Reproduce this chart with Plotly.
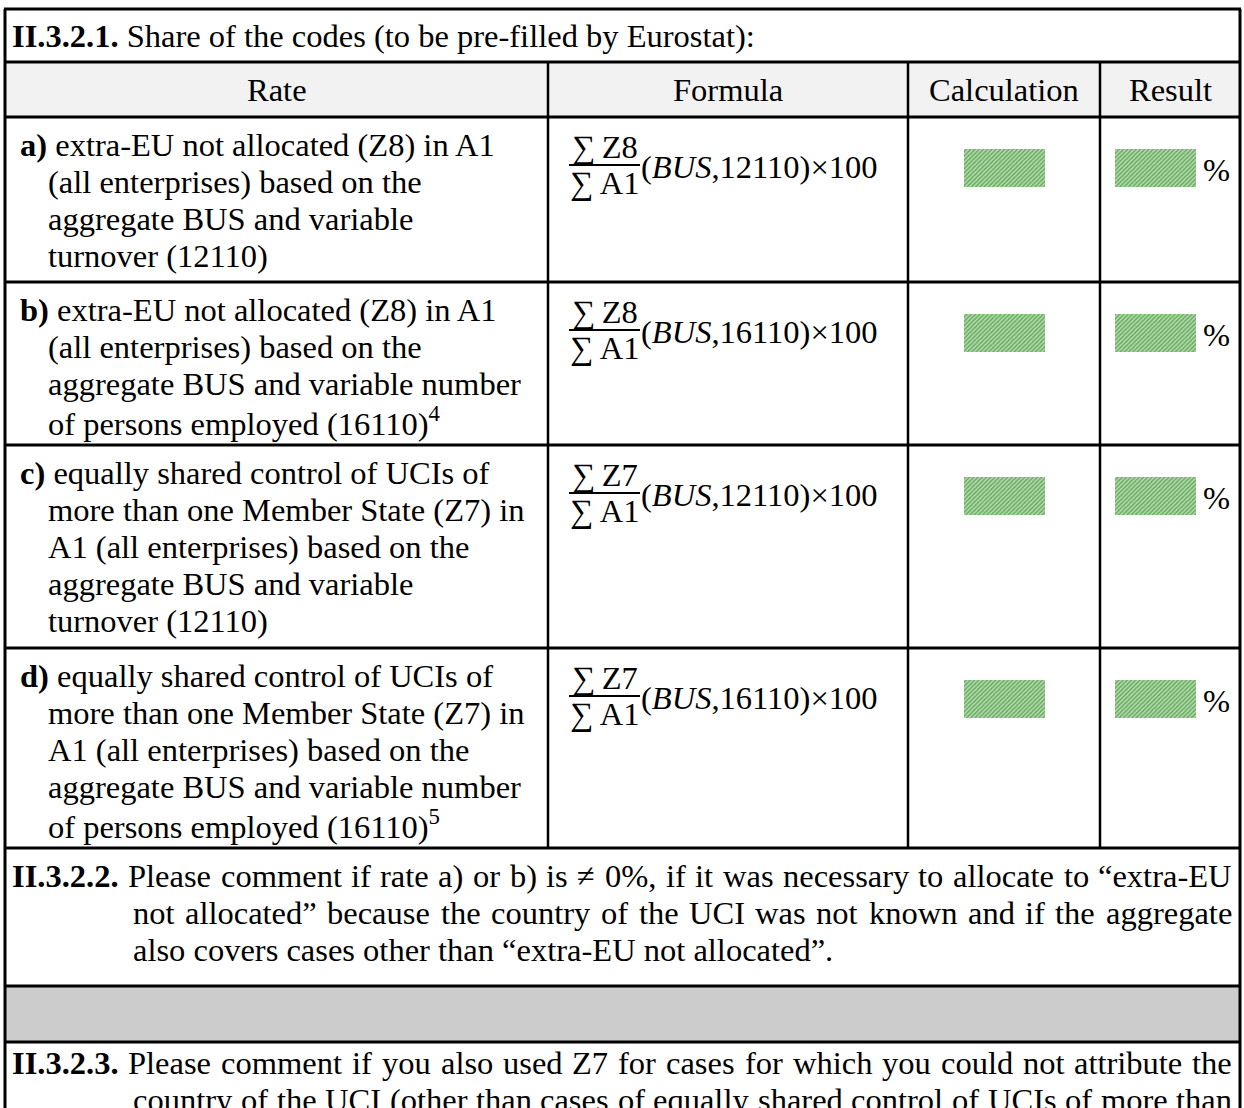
import plotly.graph_objects as go

# ---------------- data (texts of the table) ----------------
title_num = "II.3.2.1."
title_text = "Share of the codes (to be pre-filled by Eurostat):"
headers = ["Rate", "Formula", "Calculation", "Result"]
rate_labels = ["a)", "b)", "c)", "d)"]
rate_texts = [
    ["extra-EU not allocated (Z8) in A1", "(all enterprises) based on the",
     "aggregate BUS and variable", "turnover (12110)"],
    ["extra-EU not allocated (Z8) in A1", "(all enterprises) based on the",
     "aggregate BUS and variable number", "of persons employed (16110)<sup>4</sup>"],
    ["equally shared control of UCIs of", "more than one Member State (Z7) in",
     "A1 (all enterprises) based on the", "aggregate BUS and variable", "turnover (12110)"],
    ["equally shared control of UCIs of", "more than one Member State (Z7) in",
     "A1 (all enterprises) based on the", "aggregate BUS and variable number",
     "of persons employed (16110)<sup>5</sup>"],
]
numerators = ["Z8", "Z8", "Z7", "Z7"]
denominators = ["A1", "A1", "A1", "A1"]
aggregates = ["BUS", "BUS", "BUS", "BUS"]
variables = ["12110", "16110", "12110", "16110"]
unit = "%"
q2_num = "II.3.2.2."
q2_lines = ["Please comment if rate a) or b) is \u2260 0%, if it was necessary to allocate to \u201cextra-EU",
            "not allocated\u201d because the country of the UCI was not known and if the aggregate",
            "also covers cases other than \u201cextra-EU not allocated\u201d."]
q3_num = "II.3.2.3."
q3_lines = ["Please comment if you also used Z7 for cases for which you could not attribute the",
            "country of the UCI (other than cases of equally shared control of UCIs of more than"]

# ---------------- layout constants ----------------
W, H = 1244, 1108
FONT = "Liberation Serif, Times New Roman, serif"
FS = 32.5
LH = 37
X0, X1, X2, X3, X4 = 5, 548, 908, 1100, 1240
Y_TOP, Y_HEAD = 9, 62
ROW_TOPS = [117, 282, 445, 648, 848]
Y_Q2_END, Y_GRAY_END = 986, 1042
TEXT_R = 1232

# Times-Roman advance widths (per 1000 em) for justification
TW = {' ': 250, '!': 333, '"': 408, '%': 833, '(': 333, ')': 333, ',': 250, '-': 333,
      '.': 250, ':': 278, ';': 278, '?': 444, '\u201c': 444, '\u201d': 444, '\u2260': 549,
      'A': 722, 'B': 667, 'C': 667, 'D': 722, 'E': 611, 'F': 556, 'G': 722, 'H': 722,
      'I': 333, 'J': 389, 'K': 722, 'L': 611, 'M': 889, 'N': 722, 'O': 722, 'P': 556,
      'Q': 722, 'R': 667, 'S': 556, 'T': 611, 'U': 722, 'V': 722, 'W': 944, 'X': 722,
      'Y': 722, 'Z': 611, 'a': 444, 'b': 500, 'c': 444, 'd': 500, 'e': 444, 'f': 333,
      'g': 500, 'h': 500, 'i': 278, 'j': 278, 'k': 500, 'l': 278, 'm': 778, 'n': 500,
      'o': 500, 'p': 500, 'q': 500, 'r': 333, 's': 389, 't': 278, 'u': 500, 'v': 500,
      'w': 722, 'x': 500, 'y': 500, 'z': 444}
TWB = {'I': 389, '.': 250}


def width(s, bold=False):
    tot = 0
    for c in s:
        if bold and c in TWB:
            tot += TWB[c]
        else:
            tot += TW.get(c, 500)
    return tot / 1000.0 * FS


annotations = []
shapes = []


def txt(x, y, s, anchor="left", size=FS):
    annotations.append(dict(x=x, y=y, xref="x", yref="y", text=s, showarrow=False,
                            xanchor=anchor, yanchor="middle", borderpad=0, borderwidth=0,
                            font=dict(family=FONT, size=size, color="black")))


def justified(x_left, x_right, y, line, head=None):
    words = line.split(" ")
    items = []
    if head:
        items.append(("<b>" + head + "</b>", width(head, True)))
    items += [(w, width(w)) for w in words]
    total = sum(w for _, w in items)
    gap = (x_right - x_left - total) / (len(items) - 1)
    x = x_left
    for s, w in items:
        txt(x, y, s)
        x += w + gap


# ---------------- fills ----------------
shapes.append(dict(type="rect", x0=X0, x1=X4, y0=Y_HEAD, y1=ROW_TOPS[0], fillcolor="#f2f2f2",
                   line=dict(width=0), layer="below"))
shapes.append(dict(type="rect", x0=X0, x1=X4, y0=Y_Q2_END, y1=Y_GRAY_END, fillcolor="#cccccc",
                   line=dict(width=0), layer="below"))

# ---------------- grid lines ----------------
for y in [Y_TOP, Y_HEAD] + ROW_TOPS + [Y_Q2_END, Y_GRAY_END]:
    shapes.append(dict(type="line", x0=X0 - 1, x1=X4 + 1, y0=y, y1=y, line=dict(color="black", width=3)))
for x in [X0, X4]:
    shapes.append(dict(type="line", x0=x, x1=x, y0=Y_TOP, y1=H, line=dict(color="black", width=3)))
for x in [X1, X2, X3]:
    shapes.append(dict(type="line", x0=x, x1=x, y0=Y_HEAD, y1=ROW_TOPS[-1], line=dict(color="black", width=2.5)))

# ---------------- title & headers ----------------
txt(12, 36, "<b>" + title_num + "</b> " + title_text)
col_centers = [(X0 + X1) / 2, (X1 + X2) / 2, (X2 + X3) / 2, (X3 + X4) / 2]
for cx, h in zip(col_centers, headers):
    txt(cx, 90, h, anchor="center")

# ---------------- rows ----------------
fig = go.Figure()
for i in range(4):
    top = ROW_TOPS[i]
    lines = rate_texts[i]
    for k, ln in enumerate(lines):
        y = top + 28 + LH * k
        if k == 0:
            txt(20, y, "<b>" + rate_labels[i] + "</b> " + ln)
        else:
            txt(48, y, ln)
    # formula
    fx0, fx1 = 569, 640
    fcx = (fx0 + fx1) / 2
    txt(fcx, top + 30, "\u2211\u2009" + numerators[i], anchor="center")
    shapes.append(dict(type="line", x0=fx0, x1=fx1, y0=top + 48, y1=top + 48,
                       line=dict(color="black", width=1.8)))
    txt(fcx, top + 66, "\u2211\u2009" + denominators[i], anchor="center")
    txt(fx1 + 1, top + 50, "(<i>" + aggregates[i] + "</i>," + variables[i] + ")\u00d7100")
    # hatched boxes
    by0, by1 = top + 32, top + 70
    for bx0, bx1 in [(964, 1045), (1115, 1196)]:
        fig.add_trace(go.Scatter(x=[bx0, bx1, bx1, bx0, bx0], y=[by0, by0, by1, by1, by0],
                                 mode="lines", fill="toself", line=dict(width=0, color="rgba(0,0,0,0)"),
                                 fillcolor="#a6d79c",
                                 fillpattern=dict(shape="/", fgcolor="#1f741f", bgcolor="#b4deaa",
                                                  size=3, solidity=0.5),
                                 hoverinfo="skip", showlegend=False))
    txt(1216, top + 53, unit, anchor="center")

# ---------------- questions ----------------
q2_top = ROW_TOPS[-1]
justified(12, TEXT_R, q2_top + 28, q2_lines[0], head=q2_num)
justified(133, TEXT_R, q2_top + 28 + LH, q2_lines[1])
txt(133, q2_top + 28 + 2 * LH, q2_lines[2])

q3_top = Y_GRAY_END
justified(12, TEXT_R, q3_top + 21, q3_lines[0], head=q3_num)
justified(133, TEXT_R, q3_top + 21 + LH, q3_lines[1])

fig.update_layout(
    width=W, height=H, margin=dict(l=0, r=0, t=0, b=0),
    paper_bgcolor="white", plot_bgcolor="white",
    xaxis=dict(range=[0, W], visible=False, fixedrange=True),
    yaxis=dict(range=[H, 0], visible=False, fixedrange=True),
    shapes=shapes, annotations=annotations, showlegend=False,
)
fig.write_html("out.html", config={"displayModeBar": False},
               post_script="document.body.style.margin='0';document.body.style.overflow='hidden';")
